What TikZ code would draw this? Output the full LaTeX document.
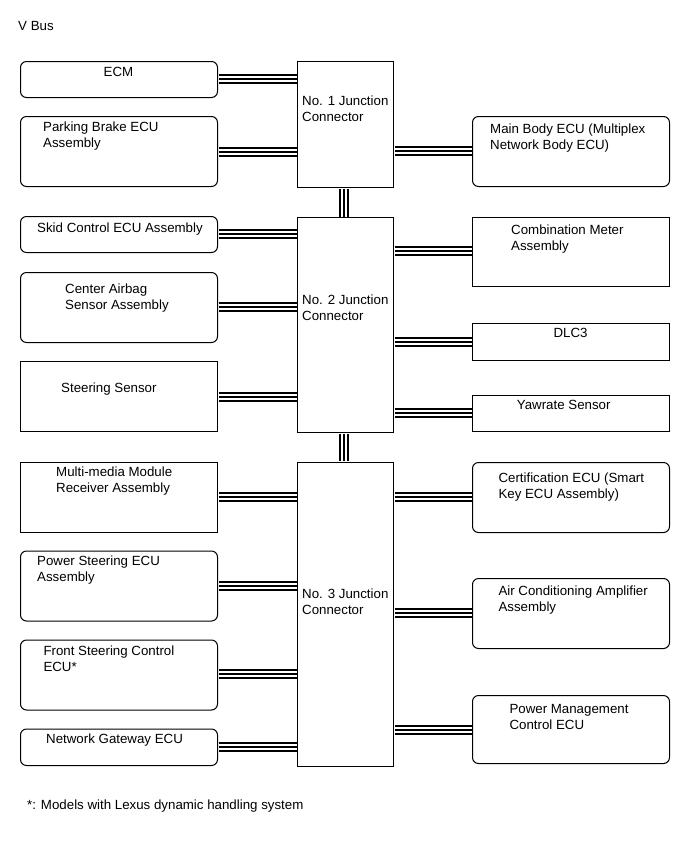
\documentclass[tikz,border=0pt]{standalone}
\usepackage{fontspec}
\setmainfont{Liberation Sans}
\newcommand\twoline[2]{\vtop{\hbox{#1}\hbox{#2}}}
\newcommand\bus[2]{%
  \draw[line width=9.6pt,shorten <=0.5pt,shorten >=0.5pt] #1 -- #2;
  \draw[white,line width=5.6pt,shorten <=0.5pt,shorten >=0.5pt] #1 -- #2;
  \draw[line width=1.9pt,shorten <=0.5pt,shorten >=0.5pt] #1 -- #2;}
\begin{document}
\begin{tikzpicture}[x=1pt,y=-1pt,
  box/.style={draw,line width=1pt,inner sep=0pt,anchor=north west,minimum width=197pt},
  rbox/.style={box,rounded corners=6pt},
  jbox/.style={draw,line width=1pt,inner sep=0pt,anchor=north west,minimum width=96pt},
  lbl/.style={anchor=base west,inner sep=0pt,font=\fontsize{13.3}{16}\selectfont},
  clbl/.style={lbl,anchor=base}]
\useasboundingbox (0,0) rectangle (690,855);

% left boxes
\node[rbox,minimum height=36pt] (ecm) at (20,61) {};
\node[rbox,minimum height=70pt] (pb) at (20,116) {};
\node[rbox,minimum height=36pt] (skid) at (20,216) {};
\node[rbox,minimum height=70pt] (ab) at (20,272) {};
\node[box,minimum height=70pt] (ss) at (20,361) {};
\node[box,minimum height=70pt] (mm) at (20,461.5) {};
\node[rbox,minimum height=70pt] (ps) at (20,550.5) {};
\node[rbox,minimum height=70pt] (fs) at (20,639.5) {};
\node[rbox,minimum height=36.5pt] (ng) at (20,728.5) {};

% junction connectors
\node[jbox,minimum height=126pt] (j1) at (297,61) {};
\node[jbox,minimum height=215pt] (j2) at (297,217) {};
\node[jbox,minimum height=304.5pt] (j3) at (297,461.5) {};

% right boxes
\node[rbox,minimum height=70pt] (mb) at (472,116) {};
\node[box,minimum height=69pt] (cm) at (472,217) {};
\node[box,minimum height=37pt] (dlc) at (472,323) {};
\node[box,minimum height=36pt] (yaw) at (472,395) {};
\node[rbox,minimum height=70pt] (cert) at (472,462) {};
\node[rbox,minimum height=70pt] (ac) at (472,578) {};
\node[rbox,minimum height=68pt] (pm) at (472,695) {};

% labels
\node[lbl] (vbus) at (18,30) {V Bus};
\node[clbl] (tecm) at (118.5,76) {ECM};
\node[lbl] (tpb) at (43,131) {\twoline{Parking Brake ECU}{Assembly}};
\node[lbl] (tskid) at (37,232.5) {Skid Control ECU Assembly};
\node[lbl] (tab) at (65,293.3) {\twoline{Center Airbag}{Sensor Assembly}};
\node[lbl] (tss) at (61,392.7) {Steering Sensor};
\node[lbl] (tmm) at (56,476.5) {\twoline{Multi-media Module}{Receiver Assembly}};
\node[lbl] (tps) at (37,565) {\twoline{Power Steering ECU}{Assembly}};
\node[lbl] (tfs) at (43.3,655.7) {\twoline{Front Steering Control}{ECU*}};
\node[lbl] (tng) at (46,743) {Network Gateway ECU};

\node[lbl] (tj1) at (302,105) {\twoline{No. 1 Junction}{Connector}};
\node[lbl] (tj2) at (302,304.3) {\twoline{No. 2 Junction}{Connector}};
\node[lbl] (tj3) at (302,598.3) {\twoline{No. 3 Junction}{Connector}};

\node[lbl] (tmb) at (490,133.3) {\twoline{Main Body ECU (Multiplex}{Network Body ECU)}};
\node[lbl] (tcm) at (511,234.3) {\twoline{Combination Meter}{Assembly}};
\node[clbl] (tdlc) at (570.5,337.3) {DLC3};
\node[lbl] (tyaw) at (516.7,409) {Yawrate Sensor};
\node[lbl] (tcert) at (498.3,482.7) {\twoline{Certification ECU (Smart}{Key ECU Assembly)}};
\node[lbl] (tac) at (498.3,595) {\twoline{Air Conditioning Amplifier}{Assembly}};
\node[lbl] (tpm) at (509.3,713.3) {\twoline{Power Management}{Control ECU}};

\node[lbl] (foot) at (27,809) {*: Models with Lexus dynamic handling system};

% buses
\bus{(ecm.east |- 0,79)}{(j1.west |- 0,79)}
\bus{(pb.east |- 0,152)}{(j1.west |- 0,152)}
\bus{(j1.east |- 0,151)}{(mb.west |- 0,151)}
\bus{(skid.east |- 0,234)}{(j2.west |- 0,234)}
\bus{(ab.east |- 0,307)}{(j2.west |- 0,307)}
\bus{(ss.east |- 0,397)}{(j2.west |- 0,397)}
\bus{(j2.east |- 0,251)}{(cm.west |- 0,251)}
\bus{(j2.east |- 0,342)}{(dlc.west |- 0,342)}
\bus{(j2.east |- 0,413)}{(yaw.west |- 0,413)}
\bus{(mm.east |- 0,497)}{(j3.west |- 0,497)}
\bus{(ps.east |- 0,586)}{(j3.west |- 0,586)}
\bus{(fs.east |- 0,674)}{(j3.west |- 0,674)}
\bus{(ng.east |- 0,746.7)}{(j3.west |- 0,746.7)}
\bus{(j3.east |- 0,497)}{(cert.west |- 0,497)}
\bus{(j3.east |- 0,613)}{(ac.west |- 0,613)}
\bus{(j3.east |- 0,730)}{(pm.west |- 0,730)}
\bus{(j1.south -| 344,0)}{(j2.north -| 344,0)}
\bus{(j2.south -| 344,0)}{(j3.north -| 344,0)}
\end{tikzpicture}
\end{document}
